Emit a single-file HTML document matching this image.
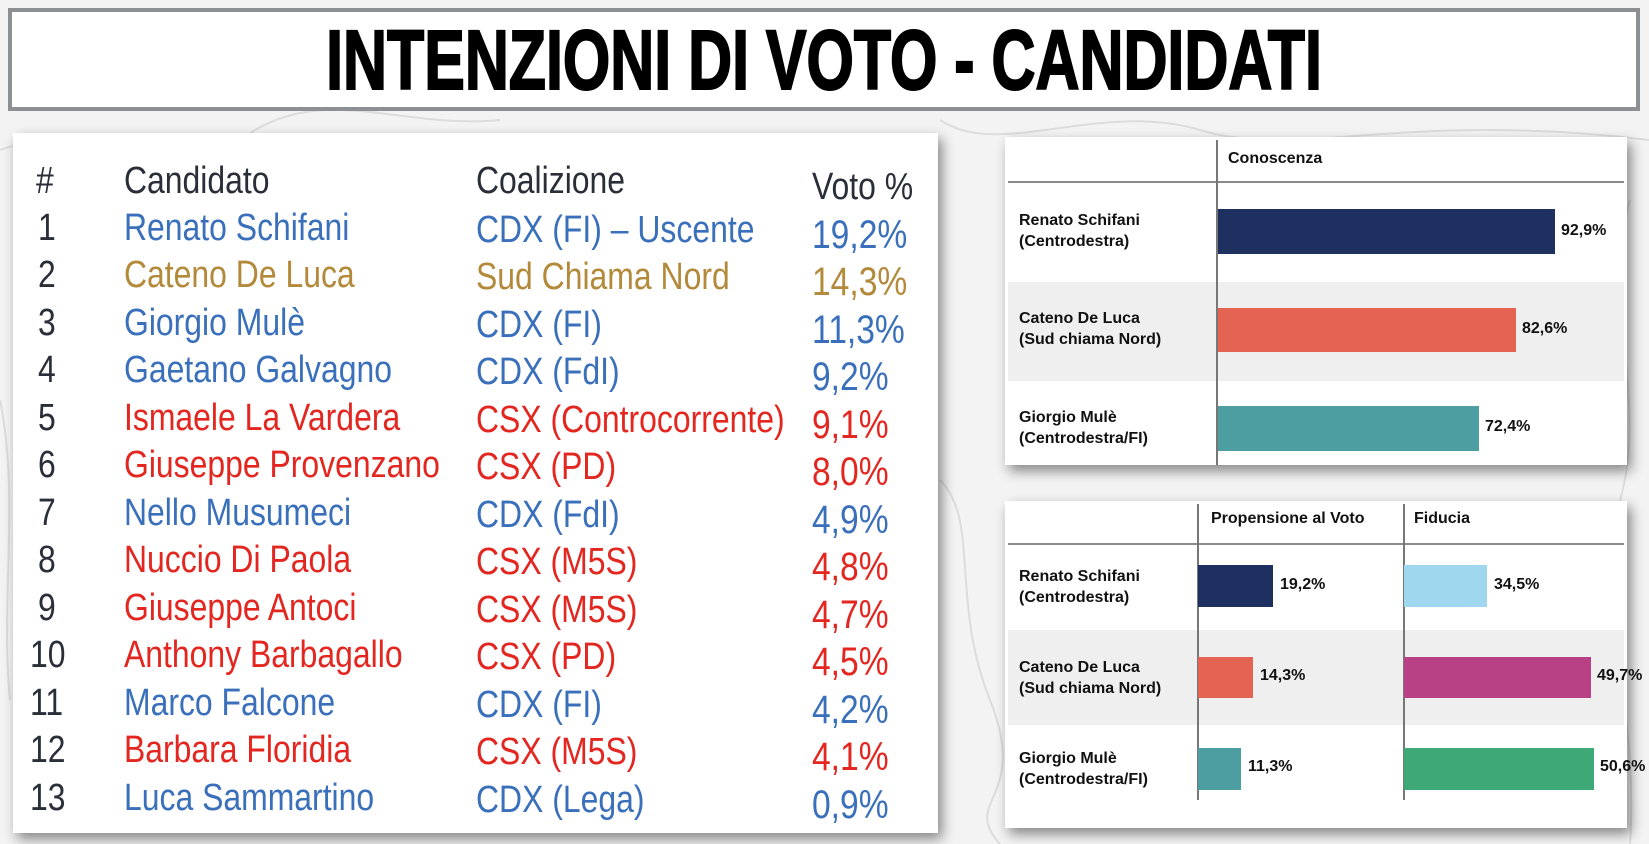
<!DOCTYPE html>
<html><head><meta charset="utf-8"><style>
*{margin:0;padding:0;box-sizing:border-box}
body{width:1649px;height:844px;overflow:hidden;background:#f3f3f3;position:relative;font-family:"Liberation Sans",sans-serif}
.abs{position:absolute}
#title{left:8px;top:8px;width:1632px;height:103px;background:#fff;border:4px solid #8d9093}
#title span{position:absolute;left:0;right:0;top:4px;text-align:center;font-family:"Liberation Sans",sans-serif;font-weight:bold;font-size:84px;line-height:88px;color:#000;transform:scaleX(0.725);-webkit-text-stroke:2px #000}
#left{left:13px;top:133px;width:925px;height:700px;background:#fff;box-shadow:4px 6px 12px rgba(0,0,0,.45)}
.t{position:absolute;font-family:"Liberation Sans",sans-serif;font-size:38px;line-height:40px;white-space:nowrap;transform:scaleX(0.84);transform-origin:left center}
.p{font-size:40px}
.k{color:#2a2e38}.b{color:#3a70bb}.r{color:#e3261f}.o{color:#b3893a}
.card{background:#fff;box-shadow:4px 6px 12px rgba(0,0,0,.45)}
.lbl{position:absolute;font-weight:bold;font-size:16px;line-height:21px;color:#111}
.bar{position:absolute}
.v{position:absolute;font-weight:bold;font-size:16px;color:#111}
.hd{position:absolute;font-weight:bold;font-size:16px;color:#111}
</style></head><body>
<svg class="abs" style="left:0;top:0" width="1649" height="844">
<g fill="none" stroke="#dcdcdc" stroke-width="2">
<path d="M0 150 C80 120 160 200 240 140 S400 130 500 120"/>
<path d="M940 120 C1000 160 1100 100 1200 130 S1400 110 1649 140"/>
<path d="M940 480 C980 520 950 600 990 700 S960 800 1000 844"/>
<path d="M1630 200 C1600 300 1649 400 1620 500 S1640 700 1630 844"/>
<path d="M0 400 C20 500 0 600 10 700"/>
</g></svg>
<div id="title" class="abs"><span>INTENZIONI DI VOTO - CANDIDATI</span></div>
<div id="left" class="abs"></div>
<div class="t k" style="left:36px;top:161px">#</div>
<div class="t k" style="left:124px;top:161px">Candidato</div>
<div class="t k" style="left:476px;top:161px">Coalizione</div>
<div class="t k" style="left:812px;top:167px">Voto %</div>

<div class="t k" style="left:38px;top:208px">1</div><div class="t b" style="left:124px;top:208px">Renato Schifani</div><div class="t b" style="left:476px;top:210px">CDX (FI) – Uscente</div><div class="t b p" style="left:812px;top:215px">19,2%</div>
<div class="t k" style="left:38px;top:255px">2</div><div class="t o" style="left:124px;top:255px">Cateno De Luca</div><div class="t o" style="left:476px;top:257px">Sud Chiama Nord</div><div class="t o p" style="left:812px;top:262px">14,3%</div>
<div class="t k" style="left:38px;top:303px">3</div><div class="t b" style="left:124px;top:303px">Giorgio Mulè</div><div class="t b" style="left:476px;top:305px">CDX (FI)</div><div class="t b p" style="left:812px;top:310px">11,3%</div>
<div class="t k" style="left:38px;top:350px">4</div><div class="t b" style="left:124px;top:350px">Gaetano Galvagno</div><div class="t b" style="left:476px;top:352px">CDX (FdI)</div><div class="t b p" style="left:812px;top:357px">9,2%</div>
<div class="t k" style="left:38px;top:398px">5</div><div class="t r" style="left:124px;top:398px">Ismaele La Vardera</div><div class="t r" style="left:476px;top:400px">CSX (Controcorrente)</div><div class="t r p" style="left:812px;top:405px">9,1%</div>
<div class="t k" style="left:38px;top:445px">6</div><div class="t r" style="left:124px;top:445px">Giuseppe Provenzano</div><div class="t r" style="left:476px;top:447px">CSX (PD)</div><div class="t r p" style="left:812px;top:452px">8,0%</div>
<div class="t k" style="left:38px;top:493px">7</div><div class="t b" style="left:124px;top:493px">Nello Musumeci</div><div class="t b" style="left:476px;top:495px">CDX (FdI)</div><div class="t b p" style="left:812px;top:500px">4,9%</div>
<div class="t k" style="left:38px;top:540px">8</div><div class="t r" style="left:124px;top:540px">Nuccio Di Paola</div><div class="t r" style="left:476px;top:542px">CSX (M5S)</div><div class="t r p" style="left:812px;top:547px">4,8%</div>
<div class="t k" style="left:38px;top:588px">9</div><div class="t r" style="left:124px;top:588px">Giuseppe Antoci</div><div class="t r" style="left:476px;top:590px">CSX (M5S)</div><div class="t r p" style="left:812px;top:595px">4,7%</div>
<div class="t k" style="left:30px;top:635px">10</div><div class="t r" style="left:124px;top:635px">Anthony Barbagallo</div><div class="t r" style="left:476px;top:637px">CSX (PD)</div><div class="t r p" style="left:812px;top:642px">4,5%</div>
<div class="t k" style="left:30px;top:683px">11</div><div class="t b" style="left:124px;top:683px">Marco Falcone</div><div class="t b" style="left:476px;top:685px">CDX (FI)</div><div class="t b p" style="left:812px;top:690px">4,2%</div>
<div class="t k" style="left:30px;top:730px">12</div><div class="t r" style="left:124px;top:730px">Barbara Floridia</div><div class="t r" style="left:476px;top:732px">CSX (M5S)</div><div class="t r p" style="left:812px;top:737px">4,1%</div>
<div class="t k" style="left:30px;top:778px">13</div><div class="t b" style="left:124px;top:778px">Luca Sammartino</div><div class="t b" style="left:476px;top:780px">CDX (Lega)</div><div class="t b p" style="left:812px;top:785px">0,9%</div>

<!-- card 1 -->
<div class="abs card" style="left:1005px;top:137px;width:622px;height:328px"></div>
<div class="abs" style="left:1008px;top:282px;width:616px;height:99px;background:#efefef"></div>
<div class="abs" style="left:1008px;top:181px;width:616px;height:2px;background:#8a8a8a"></div>
<div class="abs" style="left:1216px;top:140px;width:2px;height:325px;background:#777"></div>
<div class="hd" style="left:1228px;top:150px">Conoscenza</div>
<div class="lbl" style="left:1019px;top:210px">Renato Schifani<br>(Centrodestra)</div>
<div class="lbl" style="left:1019px;top:308px">Cateno De Luca<br>(Sud chiama Nord)</div>
<div class="lbl" style="left:1019px;top:407px">Giorgio Mulè<br>(Centrodestra/FI)</div>
<div class="bar" style="left:1218px;top:209px;width:337px;height:45px;background:#1e3060"></div>
<div class="v" style="left:1561px;top:222px">92,9%</div>
<div class="bar" style="left:1218px;top:308px;width:298px;height:44px;background:#e56352"></div>
<div class="v" style="left:1522px;top:320px">82,6%</div>
<div class="bar" style="left:1218px;top:406px;width:261px;height:45px;background:#4c9ea1"></div>
<div class="v" style="left:1485px;top:418px">72,4%</div>

<!-- card 2 -->
<div class="abs card" style="left:1005px;top:501px;width:622px;height:327px"></div>
<div class="abs" style="left:1008px;top:630px;width:616px;height:95px;background:#efefef"></div>
<div class="abs" style="left:1008px;top:543px;width:616px;height:2px;background:#8a8a8a"></div>
<div class="abs" style="left:1197px;top:504px;width:2px;height:296px;background:#777"></div>
<div class="abs" style="left:1403px;top:504px;width:2px;height:296px;background:#777"></div>
<div class="hd" style="left:1211px;top:510px">Propensione al Voto</div>
<div class="hd" style="left:1414px;top:510px">Fiducia</div>
<div class="lbl" style="left:1019px;top:566px">Renato Schifani<br>(Centrodestra)</div>
<div class="lbl" style="left:1019px;top:657px">Cateno De Luca<br>(Sud chiama Nord)</div>
<div class="lbl" style="left:1019px;top:748px">Giorgio Mulè<br>(Centrodestra/FI)</div>
<div class="bar" style="left:1198px;top:565px;width:75px;height:42px;background:#1e3060"></div>
<div class="v" style="left:1280px;top:576px">19,2%</div>
<div class="bar" style="left:1198px;top:657px;width:55px;height:41px;background:#e56352"></div>
<div class="v" style="left:1260px;top:667px">14,3%</div>
<div class="bar" style="left:1198px;top:748px;width:43px;height:42px;background:#4c9ea1"></div>
<div class="v" style="left:1248px;top:758px">11,3%</div>
<div class="bar" style="left:1404px;top:565px;width:83px;height:42px;background:#9fd8ee"></div>
<div class="v" style="left:1494px;top:576px">34,5%</div>
<div class="bar" style="left:1404px;top:657px;width:187px;height:41px;background:#b84186"></div>
<div class="v" style="left:1597px;top:667px">49,7%</div>
<div class="bar" style="left:1404px;top:748px;width:190px;height:42px;background:#3fa877"></div>
<div class="v" style="left:1600px;top:758px">50,6%</div>
</body></html>
